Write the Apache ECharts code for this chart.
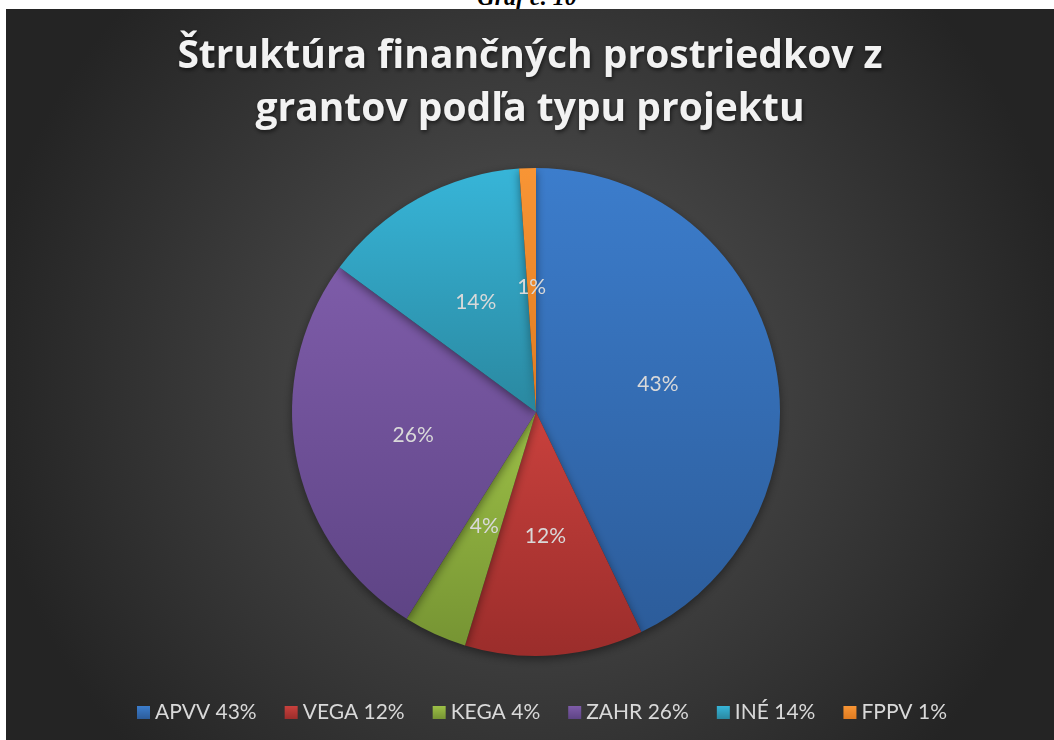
<!DOCTYPE html>
<html>
<head>
<meta charset="utf-8">
<title>Štruktúra finančných prostriedkov z grantov podľa typu projektu</title>
<script src="https://cdn.jsdelivr.net/npm/echarts@6/dist/echarts.min.js"></script>
<style>
  html, body { margin: 0; padding: 0; background: #ffffff; width: 1054px; height: 740px; overflow: hidden; }
  #caption {
    position: absolute; left: 0; top: -17px; width: 1054px; text-align: center;
    font-family: "Liberation Serif", serif; font-style: italic; font-weight: bold;
    font-size: 24px; line-height: 28px; color: #000;
  }
  #chart { position: absolute; left: 6px; top: 9px; width: 1048px; height: 731px; }
</style>
</head>
<body>
<div id="caption">Graf č. 10</div>
<div id="chart"></div>
<script>
// podiely podla typu projektu (odcitane z obrazka)
var categories = ['APVV', 'VEGA', 'KEGA', 'ZAHR', 'INÉ', 'FPPV'];
var shares = [42.9, 11.8, 4.2, 26.2, 13.8, 1.1];

// farby: horna a dolna farba prechodu
var topColors = ['#3c7dcc', '#c9413d', '#9dc047', '#7e5ca9', '#37b5d8', '#f89535'];
var bottomColors = ['#2c5c9a', '#9b2d2b', '#769433', '#5e4485', '#2a88a0', '#e07b20'];

var total = shares.reduce(function (a, b) { return a + b; }, 0);

function grad(i) {
    return new echarts.graphic.LinearGradient(0, 0, 0, 1, [
        { offset: 0, color: topColors[i] },
        { offset: 1, color: bottomColors[i] }
    ]);
}

var pieData = [];
for (var i = 0; i < categories.length; i++) {
    pieData.push({
        name: categories[i],
        value: shares[i],
        itemStyle: { color: grad(i) }
    });
}

var chart = echarts.init(document.getElementById('chart'));

var option = {
    backgroundColor: new echarts.graphic.RadialGradient(0.5, 0.5, 0.75, [
        { offset: 0, color: '#565656' },
        { offset: 1, color: '#242424' }
    ]),
    animation: false,
    title: {
        text: 'Štruktúra finančných prostriedkov z\ngrantov podľa typu projektu',
        left: 'center',
        top: 16,
        textStyle: {
            fontFamily: 'Open Sans',
            fontWeight: 'bold',
            fontSize: 39,
            lineHeight: 53,
            color: '#f2f2f2',
            textShadowColor: 'rgba(0,0,0,0.6)',
            textShadowBlur: 4,
            textShadowOffsetX: 1,
            textShadowOffsetY: 2
        }
    },
    legend: {
        left: 126,
        top: 688,
        itemWidth: 13,
        itemHeight: 13,
        itemGap: 28,
        icon: 'rect',
        data: categories,
        formatter: function (name) {
            var v = shares[categories.indexOf(name)];
            return name + ' ' + Math.round(v / total * 100) + '%';
        },
        textStyle: {
            fontFamily: 'Lato',
            fontSize: 21,
            color: '#d9d9d9'
        }
    },
    series: [{
        type: 'pie',
        center: [530, 403],
        radius: [0, 244],
        startAngle: 90,
        clockwise: true,
        percentPrecision: 0,
        data: pieData,
        itemStyle: {
            borderWidth: 0,
            shadowColor: 'rgba(0,0,0,0.45)',
            shadowBlur: 10,
            shadowOffsetY: 3
        },
        label: {
            show: true,
            position: 'inside',
            formatter: '{d}%',
            fontFamily: 'Lato',
            fontSize: 21,
            color: '#d9d9d9'
        },
        labelLine: { show: false },
        emphasis: { disabled: true }
    }]
};

chart.setOption(option);
</script>
</body>
</html>
